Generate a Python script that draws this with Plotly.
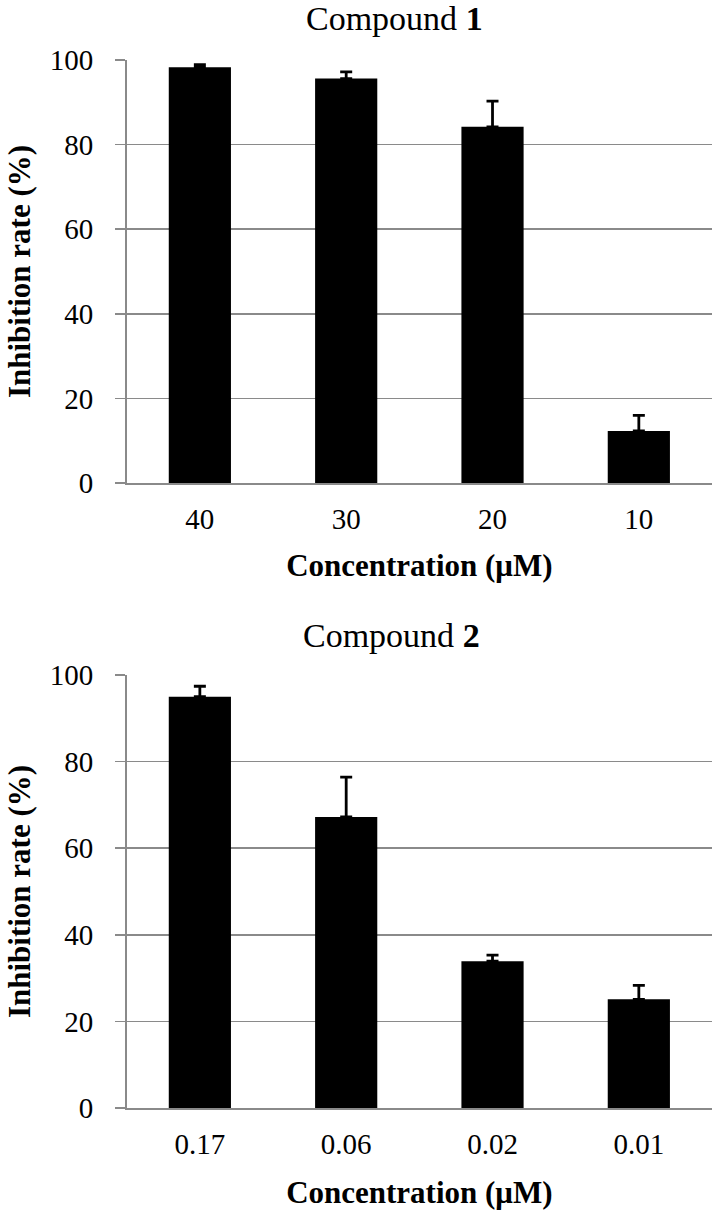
import plotly.graph_objects as go

# ---- data ----
conc1 = ["40", "30", "20", "10"]
inhib1 = [98.3, 95.6, 84.2, 12.3]
err1 = [0.6, 1.6, 6.1, 3.7]

conc2 = ["0.17", "0.06", "0.02", "0.01"]
inhib2 = [95.0, 67.2, 33.9, 25.1]
err2 = [2.4, 9.2, 1.4, 3.2]

yticks = [0, 20, 40, 60, 80, 100]

W, H = 712, 1212
GRID = "#8a8a8a"
FONT = "'Liberation Serif', 'Times New Roman', serif"

fig = go.Figure()

def bars(x, y, e, xa, ya):
    return go.Bar(
        x=x, y=y, xaxis=xa, yaxis=ya,
        marker=dict(color="black", line=dict(width=0)),
        error_y=dict(type="data", symmetric=False, array=e,
                     arrayminus=[0] * len(e), color="black",
                     thickness=2.8, width=6),
        showlegend=False,
    )

fig.add_trace(bars(conc1, inhib1, err1, "x", "y"))
fig.add_trace(bars(conc2, inhib2, err2, "x2", "y2"))

def px_to_paper_y(p):
    return 1 - p / H

x_dom = [126.7 / W, 1.0]
y1_dom = [px_to_paper_y(483), px_to_paper_y(60)]
y2_dom = [px_to_paper_y(1108), px_to_paper_y(675)]

xcommon = dict(type="category", showline=True, linecolor=GRID, linewidth=1.6,
               ticks="", showgrid=False, automargin=False,
               tickfont=dict(family=FONT, size=29, color="black"),
               ticklabelstandoff=10)
ycommon = dict(range=[0, 100], tickvals=yticks, showline=True, linecolor=GRID,
               linewidth=1.6, ticks="outside", ticklen=10, tickcolor=GRID,
               tickwidth=1.6, showgrid=True, gridcolor=GRID, gridwidth=1.6,
               zeroline=False, automargin=False,
               tickfont=dict(family=FONT, size=29, color="black"),
               ticklabelstandoff=16)

fig.update_layout(
    template="none",
    width=W, height=H,
    margin=dict(l=0, r=0, t=0, b=0),
    plot_bgcolor="white", paper_bgcolor="white",
    font=dict(family=FONT, color="black"),
    hovermode=False,
    bargap=0.575,
    xaxis=dict(domain=x_dom, anchor="y", **xcommon,
               title=dict(text="<b>Concentration (μM)</b>", standoff=20,
                          font=dict(family=FONT, size=31, color="black"))),
    yaxis=dict(domain=y1_dom, anchor="x", **ycommon,
               title=dict(text="<b>Inhibition rate (%)</b>", standoff=10,
                          font=dict(family=FONT, size=31, color="black"))),
    xaxis2=dict(domain=x_dom, anchor="y2", **xcommon,
                title=dict(text="<b>Concentration (μM)</b>", standoff=22,
                           font=dict(family=FONT, size=31, color="black"))),
    yaxis2=dict(domain=y2_dom, anchor="x2", **ycommon,
                title=dict(text="<b>Inhibition rate (%)</b>", standoff=10,
                           font=dict(family=FONT, size=31, color="black"))),
    annotations=[
        dict(text="Compound <b>1</b>", x=394.5 / W,
             y=px_to_paper_y(18), xref="paper", yref="paper",
             showarrow=False, yanchor="middle",
             font=dict(family=FONT, size=34, color="black")),
        dict(text="Compound <b>2</b>", x=391 / W,
             y=px_to_paper_y(635), xref="paper", yref="paper",
             showarrow=False, yanchor="middle",
             font=dict(family=FONT, size=34, color="black")),
    ],
)

fig.write_html("out.html",
               config={"displayModeBar": False, "staticPlot": True},
               post_script="document.body.style.margin='0';")
